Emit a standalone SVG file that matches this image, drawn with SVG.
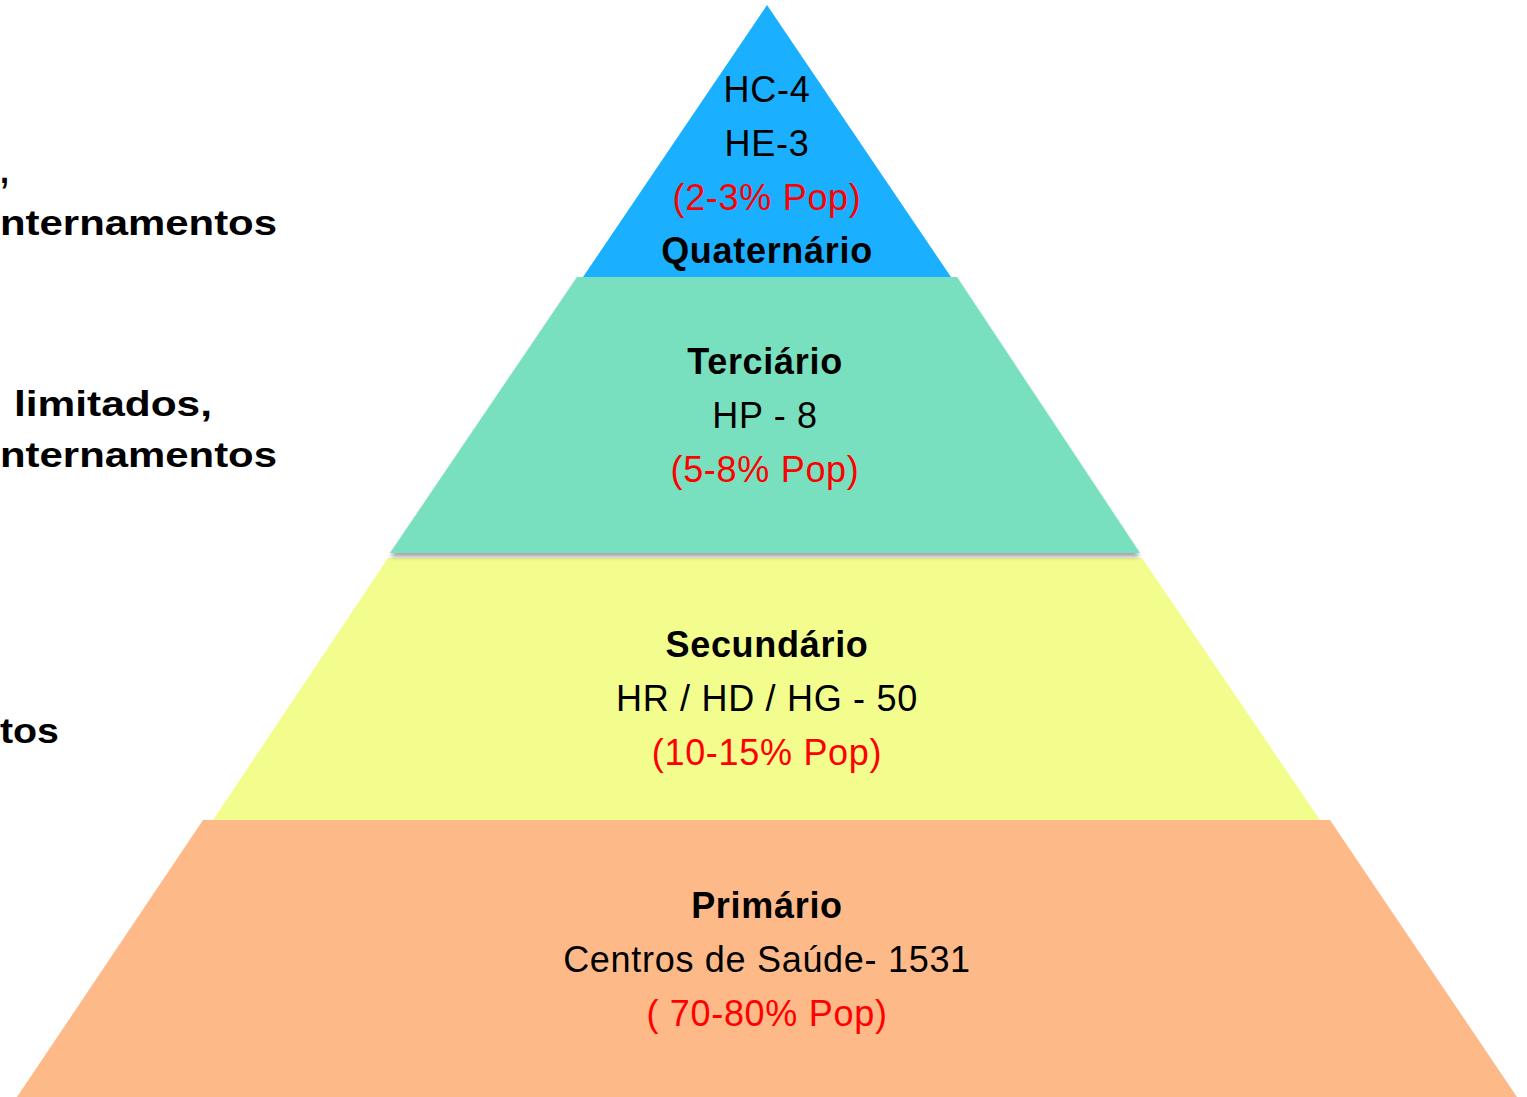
<svg xmlns="http://www.w3.org/2000/svg" width="1527" height="1097" viewBox="0 0 1527 1097">
<style>
text{font-family:"Liberation Sans",Arial,sans-serif;font-size:36px;fill:#000;letter-spacing:0.7px}
.c{text-anchor:middle}
.b{font-weight:bold}
.r{fill:#FF0000}
.l{font-weight:bold;font-size:35px;letter-spacing:0}
</style>
<defs>
<filter id="sh" x="-5%" y="-5%" width="110%" height="115%">
<feGaussianBlur in="SourceAlpha" stdDeviation="2"/>
<feOffset dx="0" dy="4" result="o"/>
<feComponentTransfer><feFuncA type="linear" slope="0.35"/></feComponentTransfer>
<feMerge><feMergeNode/><feMergeNode in="SourceGraphic"/></feMerge>
</filter>
</defs>
<rect width="1527" height="1097" fill="#fff"/>
<g id="left-text">
<text class="l" x="0" y="183" textLength="9" lengthAdjust="spacingAndGlyphs">,</text>
<text class="l" x="0" y="235" textLength="277" lengthAdjust="spacingAndGlyphs">nternamentos</text>
<text class="l" x="14" y="416" textLength="198" lengthAdjust="spacingAndGlyphs">limitados,</text>
<text class="l" x="0" y="467" textLength="277" lengthAdjust="spacingAndGlyphs">nternamentos</text>
<text class="l" x="0" y="743" textLength="59" lengthAdjust="spacingAndGlyphs">tos</text>
</g>
<g id="primario">
<polygon points="203,820 1330,820 1517,1097 17,1097" fill="#FDBA88"/>
<text class="c b" x="767" y="918">Primário</text>
<text class="c" x="767" y="972">Centros de Saúde- 1531</text>
<text class="c r" x="767" y="1026">( 70-80% Pop)</text>
</g>
<g id="secundario">
<polygon points="388,558 1142,558 1320,820 213,820" fill="#F2FD8E"/>
<text class="c b" x="767" y="657">Secundário</text>
<text class="c" x="767" y="711">HR / HD / HG - 50</text>
<text class="c r" x="767" y="765">(10-15% Pop)</text>
</g>
<g id="terciario">
<polygon points="577,277 957,277 1140,553 390,553" fill="#78E0BE" filter="url(#sh)"/>
<text class="c b" x="765" y="374">Terciário</text>
<text class="c" x="765" y="428">HP - 8</text>
<text class="c r" x="765" y="482">(5-8% Pop)</text>
</g>
<g id="quaternario">
<polygon points="767,5 951,277 583,277" fill="#1AB0FF"/>
<text class="c" x="767" y="102">HC-4</text>
<text class="c" x="767" y="156">HE-3</text>
<text class="c r" x="767" y="210">(2-3% Pop)</text>
<text class="c b" x="767" y="263">Quaternário</text>
</g>
<g id="connectors"/>
</svg>
